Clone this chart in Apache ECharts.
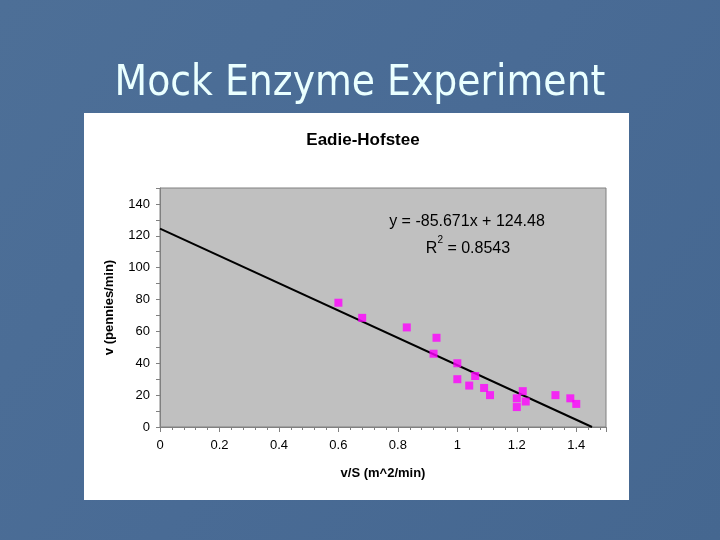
<!DOCTYPE html>
<html>
<head>
<meta charset="utf-8">
<script src="https://cdn.jsdelivr.net/npm/echarts@6/dist/echarts.min.js"></script>
<style>
  html, body { margin: 0; padding: 0; }
  #main { width: 720px; height: 540px; }
</style>
</head>
<body>
<div id="main"></div>
<script>
// data
var vOverS = [0.60, 0.68, 0.83, 0.93, 0.92, 1.00, 1.00, 1.04, 1.06, 1.09, 1.11, 1.20, 1.20, 1.22, 1.23, 1.33, 1.38, 1.40];
var velocity = [78, 68.5, 62.5, 56, 46, 40, 30, 26, 32, 24.5, 20, 18, 12.5, 22.5, 16, 20, 18, 14.5];
var slope = -85.671;
var intercept = 124.48;
var rSquared = 0.8543;

var points = vOverS.map(function (x, i) { return [x, velocity[i]]; });
// trendline from the y axis down to where it meets zero
var trend = [[0, intercept], [-intercept / slope, 0]];

var myChart = echarts.init(document.getElementById('main'));

var option = {
    backgroundColor: {
        type: 'linear', x: 0, y: 0, x2: 1, y2: 1,
        colorStops: [
            { offset: 0, color: '#4d6f97' },
            { offset: 0.5, color: '#496b95' },
            { offset: 1, color: '#456790' }
        ]
    },
    title: [
        {
            text: 'Mock Enzyme Experiment',
            left: 'center',
            top: 58,
            textStyle: {
                color: '#eaffff',
                fontFamily: 'DejaVu Sans Condensed',
                fontWeight: 'normal',
                fontSize: 42
            }
        },
        {
            text: 'Eadie-Hofstee',
            left: 358,
            textAlign: 'center',
            top: 127,
            textStyle: {
                color: '#000',
                fontFamily: 'Liberation Sans',
                fontWeight: 'bold',
                fontSize: 17
            }
        }
    ],
    graphic: [
        {
            type: 'rect',
            z: -10,
            shape: { x: 84, y: 113, width: 545, height: 387 },
            style: { fill: '#ffffff' }
        },
        {
            type: 'text',
            z: 10,
            x: 467,
            y: 222,
            style: {
                text: 'y = ' + slope + 'x + ' + intercept,
                fill: '#000',
                font: '16px "Liberation Sans"',
                align: 'center',
                verticalAlign: 'middle'
            }
        },
        {
            type: 'text',
            z: 10,
            x: 468,
            y: 246,
            style: {
                text: '{a|R}{s|2}{a| = ' + rSquared + '}',
                align: 'center',
                verticalAlign: 'middle',
                rich: {
                    a: { fontSize: 16, fontFamily: 'Liberation Sans', fill: '#000', verticalAlign: 'bottom', lineHeight: 22 },
                    s: { fontSize: 10, fontFamily: 'Liberation Sans', fill: '#000', verticalAlign: 'top', lineHeight: 22 }
                }
            }
        }
    ],
    grid: {
        left: 160,
        right: 114,
        top: 188,
        bottom: 113,
        show: true,
        backgroundColor: '#c0c0c0',
        borderColor: '#808080',
        borderWidth: 1
    },
    xAxis: {
        type: 'value',
        min: 0,
        max: 1.5,
        interval: 0.2,
        name: 'v/S (m^2/min)',
        nameLocation: 'middle',
        nameGap: 40,
        nameTextStyle: { color: '#000', fontFamily: 'Liberation Sans', fontWeight: 'bold', fontSize: 13 },
        axisLine: { lineStyle: { color: '#808080' } },
        axisTick: { inside: false, length: 5, lineStyle: { color: '#808080' } },
        minorTick: { show: true, splitNumber: 5, length: 3, lineStyle: { color: '#808080' } },
        axisLabel: {
            color: '#000', fontFamily: 'Liberation Sans', fontSize: 13, margin: 12,
            showMaxLabel: false
        },
        splitLine: { show: false }
    },
    yAxis: {
        type: 'value',
        min: 0,
        max: 150,
        interval: 20,
        name: 'v (pennies/min)',
        nameLocation: 'middle',
        nameGap: 44,
        nameTextStyle: { color: '#000', fontFamily: 'Liberation Sans', fontWeight: 'bold', fontSize: 13 },
        axisLine: { show: true, lineStyle: { color: '#808080' } },
        axisTick: { show: true, length: 4, lineStyle: { color: '#808080' } },
        minorTick: { show: true, splitNumber: 2, length: 4, lineStyle: { color: '#808080' } },
        axisLabel: {
            color: '#000', fontFamily: 'Liberation Sans', fontSize: 13, margin: 10,
            showMaxLabel: false
        },
        splitLine: { show: false }
    },
    series: [
        {
            name: 'trend',
            type: 'line',
            data: trend,
            symbol: 'none',
            silent: true,
            lineStyle: { color: '#000', width: 2 },
            z: 2
        },
        {
            name: 'v',
            type: 'scatter',
            data: points,
            symbol: 'rect',
            symbolSize: 8,
            itemStyle: { color: '#ff00ff' },
            z: 3
        }
    ]
};

myChart.setOption(option);
</script>
</body>
</html>
